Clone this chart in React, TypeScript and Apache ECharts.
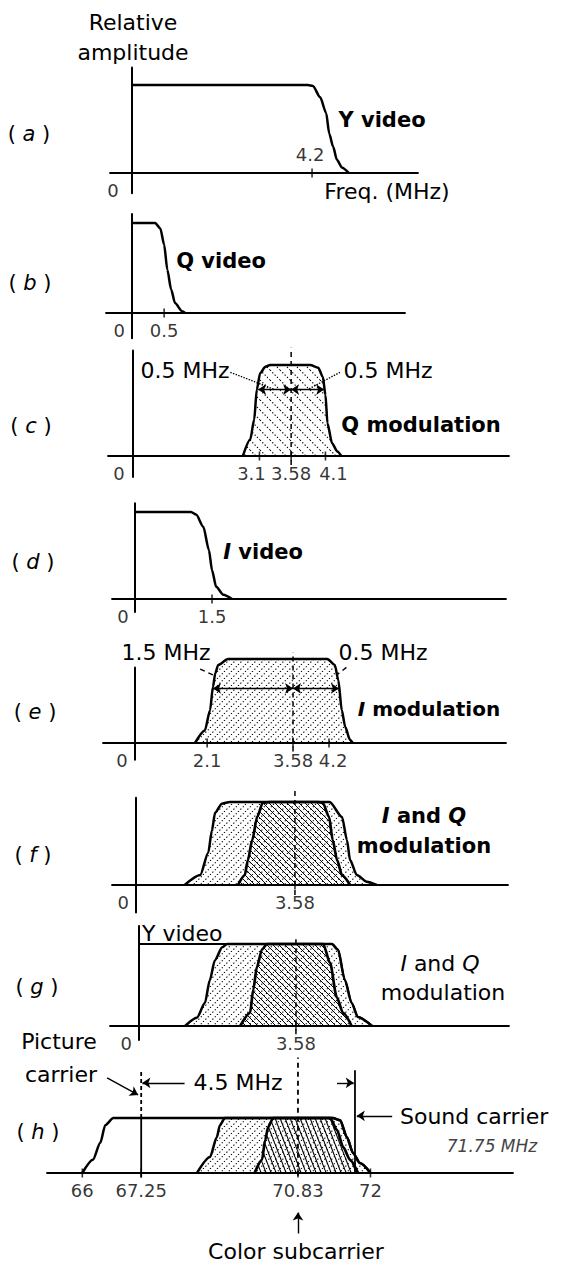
import React, { useEffect, useRef } from 'react';
import * as echarts from 'echarts';

const FONT = '"DejaVu Sans", "Liberation Sans", sans-serif';

// ---- spectra: [frequency (MHz), relative amplitude] ----
const yVideoA = [[0, 1], [4.1, 1], [4.22, 0.99], [4.39, 0.86], [4.53, 0.68], [4.6, 0.45], [4.69, 0.3], [4.78, 0.15], [4.9, 0.06], [5.06, 0]];
const qVideoB = [[0, 1], [0.36, 1], [0.44, 0.94], [0.5, 0.76], [0.55, 0.48], [0.61, 0.26], [0.67, 0.11], [0.78, 0.02], [0.83, 0]];
const qModC = [[2.85, 0], [2.96, 0.18], [3.02, 0.4], [3.06, 0.73], [3.11, 0.91], [3.19, 0.98], [3.26, 1], [3.87, 1], [3.99, 0.97], [4.06, 0.87], [4.1, 0.67], [4.13, 0.36], [4.2, 0.14], [4.28, 0.05], [4.34, 0]];
const iVideoD = [[0, 1], [1.09, 1], [1.19, 0.97], [1.33, 0.83], [1.44, 0.56], [1.5, 0.33], [1.58, 0.14], [1.72, 0.05], [1.89, 0]];
const iModE = [[1.89, 0], [2.06, 0.15], [2.15, 0.39], [2.2, 0.67], [2.24, 0.83], [2.29, 0.93], [2.46, 1], [4.17, 1], [4.3, 0.93], [4.36, 0.75], [4.42, 0.39], [4.48, 0.19], [4.56, 0.04], [4.61, 0]];
const iModF = [[1.8, 0], [2.05, 0.12], [2.18, 0.39], [2.24, 0.66], [2.29, 0.87], [2.4, 0.98], [2.53, 1], [4.14, 1], [4.34, 0.82], [4.42, 0.54], [4.47, 0.3], [4.58, 0.12], [4.74, 0.04], [4.9, 0]];
const qModF = [[2.66, 0], [2.77, 0.12], [2.82, 0.3], [2.89, 0.54], [2.97, 0.82], [3.06, 0.99], [3.18, 1], [3.95, 1], [4.03, 0.99], [4.13, 0.82], [4.19, 0.54], [4.26, 0.3], [4.34, 0.12], [4.47, 0]];
const yVideoG = [[0, 1], [4.16, 1], [4.26, 0.93], [4.37, 0.56], [4.48, 0.28], [4.58, 0.11], [4.81, 0]];
const iModG = [[1.79, 0], [1.98, 0.1], [2.11, 0.28], [2.19, 0.56], [2.27, 0.8], [2.39, 0.96], [2.47, 1], [4.16, 1], [4.26, 0.93], [4.37, 0.56], [4.48, 0.28], [4.58, 0.11], [4.81, 0]];
const qModG = [[2.68, 0], [2.84, 0.16], [2.89, 0.44], [2.95, 0.72], [3.03, 0.93], [3.11, 1], [4.02, 1], [4.13, 0.77], [4.24, 0.35], [4.34, 0.16], [4.48, 0]];
const yVideoH = [[66.0, 0], [66.17, 0.24], [66.29, 0.55], [66.37, 0.87], [66.5, 1], [71.39, 1], [71.51, 0.96], [71.62, 0.65], [71.72, 0.36], [71.83, 0.18], [72.0, 0]];
const iModH = [[69.2, 0], [69.41, 0.29], [69.52, 0.65], [69.57, 0.87], [69.65, 1], [71.39, 1], [71.51, 0.96], [71.62, 0.65], [71.72, 0.36], [71.83, 0.18], [72.0, 0]];
const qModH = [[70.13, 0], [70.25, 0.24], [70.3, 0.6], [70.35, 0.84], [70.43, 1], [71.35, 1], [71.46, 0.78], [71.56, 0.47], [71.67, 0.24], [71.8, 0]];

// ---- labelled frequencies on each baseline ----
const ticksA = [0, 4.2];
const ticksB = [0, 0.5];
const ticksC = [0, 3.1, 3.58, 4.1];
const ticksD = [0, 1.5];
const ticksE = [0, 2.1, 3.58, 4.2];
const ticksF = [0, 3.58];
const ticksG = [0, 3.58];
const ticksH = [66, 67.25, 70.83, 72];

// ---- carriers (MHz) ----
const colorSubcarrier = 3.58;
const pictureCarrierH = 67.25;
const colorSubcarrierH = 70.83;
const soundCarrierH = 71.75;

// ---- sideband dimension marks ----
const cSidebandEdges = [3.08, 3.58, 4.08];
const cArrowLevel = 0.73;
const cLeaders = [[[2.66, 0.92], [3.33, 0.73]], [[4.32, 0.92], [3.83, 0.73]]];
const eSidebandEdges = [2.2, 3.58, 4.37];
const eArrowLevel = 0.65;
const eLeaders = [[[1.98, 0.88], [2.2, 0.81]], [[4.5, 0.9], [4.35, 0.82]]];
const hSpanArrows = [[[69.0, 1.64], [67.27, 1.64]], [[71.46, 1.64], [71.73, 1.64]]];
const hSoundArrow = [[72.35, 1.04], [71.78, 1.04]];
const hPictureArrow = [[66.4, 1.73], [67.2, 1.42]];
const hSubcarrierArrow = [[70.83, -1.1], [70.83, -0.72]];

// ---- panel frames (pixel layout of each small plot; the axes are broken, not to scale) ----
const frames = [
  { base: 173, unit: 88, ymin: -0.23, ymax: 1.2, left: 110, right: 418, xmin: -0.51, xmax: 6.67 },
  { base: 313, unit: 90, ymin: -0.28, ymax: 1.1, left: 106, right: 405, xmin: -0.41, xmax: 4.27 },
  { base: 456, unit: 91, ymin: -0.23, ymax: 1.16, left: 108, right: 509, xmin: -0.38, xmax: 6.88, breaks: [{ start: 0.5, end: 1.686, gap: 0 }] },
  { base: 599, unit: 87, ymin: -0.15, ymax: 1.1, left: 112, right: 506, xmin: -0.45, xmax: 7.23 },
  { base: 743, unit: 84, ymin: -0.2, ymax: 0.9, left: 103, right: 506, xmin: -0.55, xmax: 7.25, breaks: [{ start: 0.5, end: 1.355, gap: 0 }] },
  { base: 885, unit: 83, ymin: -0.33, ymax: 1.05, left: 112, right: 508, xmin: -0.39, xmax: 7.02, breaks: [{ start: 0.5, end: 1.516, gap: 0 }] },
  { base: 1026, unit: 82, ymin: -0.17, ymax: 1.22, left: 110, right: 509, xmin: -0.47, xmax: 7.02, breaks: [{ start: 0.5, end: 1.548, gap: 0 }] },
  { base: 1173, unit: 55, ymin: -1.2, ymax: 2.0, left: 47, right: 513, xmin: 65.43, xmax: 74.3, breaks: [{ start: 66.6, end: 66.9, gap: 0 }, { start: 67.4, end: 68.45, gap: 0 }], noYAxis: true },
];

function hatch(w: number, h: number, dir: 'up' | 'down', dash: number[] | null, lw: number) {
  const c = document.createElement('canvas');
  c.width = w;
  c.height = h;
  const g = c.getContext('2d') as CanvasRenderingContext2D;
  g.strokeStyle = '#000';
  g.lineWidth = lw;
  if (dash) g.setLineDash(dash);
  for (const o of [-w, 0, w]) {
    g.beginPath();
    if (dir === 'up') {
      g.moveTo(o, h);
      g.lineTo(o + w, 0);
    } else {
      g.moveTo(o, 0);
      g.lineTo(o + w, h);
    }
    g.stroke();
  }
  return { image: c, repeat: 'repeat', imageWidth: w, imageHeight: h };
}

function curve(i: number, data: number[][], o: any = {}) {
  return {
    type: 'line', xAxisIndex: i, yAxisIndex: i, data,
    symbol: 'none', showSymbol: false, silent: true, clip: false,
    smooth: o.smooth ?? 0, smoothMonotone: 'x',
    itemStyle: { color: '#000' },
    lineStyle: { color: '#000', width: o.width ?? 2.5, type: o.type ?? 'solid' },
    areaStyle: o.fill ? { color: o.fill, opacity: 1 } : undefined,
    markLine: o.markLine,
    z: o.z ?? 3,
  };
}

function ticks(i: number, values: number[], offsets: Record<string, number> = {}, above: number[] = []) {
  return {
    type: 'scatter', xAxisIndex: i, yAxisIndex: i, silent: true, clip: false, z: 6,
    symbol: 'rect', itemStyle: { color: '#000' },
    data: values.map((v) => ({
      value: [v, 0],
      symbolSize: v === 0 ? [0, 9] : [1.6, 9],
      label: {
        position: above.includes(v) ? 'top' : 'bottom',
        distance: above.includes(v) ? 5 : 4,
        offset: [offsets[String(v)] ?? 0, 0],
      },
    })),
    label: {
      show: true, fontSize: 18, fontFamily: FONT, color: '#000',
      formatter: (p: any) => String(p.value[0]),
    },
  };
}

const seg = (a: number[], b: number[], o: any = {}) => [
  { coord: a, symbol: o.s0 ?? 'none', lineStyle: o.style },
  { coord: b, symbol: o.s1 ?? 'none' },
];

function marks(data: any[]) {
  return {
    silent: true, animation: false, label: { show: false },
    symbolSize: 8, lineStyle: { color: '#000', width: 1.4, type: 'solid' },
    data,
  };
}

function txt(text: string, x: number, y: number, o: any = {}) {
  const size = o.size ?? 22;
  const weight = o.bold ? 'bold' : 'normal';
  const align = o.align ?? 'center';
  return {
    type: 'text', x, y, silent: true, z: 20,
    style: {
      text, fontSize: size, fontFamily: FONT, fontWeight: weight,
      fontStyle: o.italic ? 'italic' : 'normal',
      fill: o.color ?? '#000',
      textAlign: align, align, textVerticalAlign: 'middle', verticalAlign: 'middle',
      lineHeight: o.lh,
      rich: {
        i: { fontStyle: 'italic', fontWeight: weight, fontSize: size, fontFamily: FONT, fill: o.color ?? '#000' },
      },
    },
  };
}

export default function App() {
  const ref = useRef<HTMLDivElement>(null);

  useEffect(() => {
    if (!ref.current) return;
    const chart = echarts.init(ref.current, null, { renderer: 'svg', width: 566, height: 1265 });

    const iHatch = hatch(7, 7, 'up', [1.3, 2.1], 1.1);
    const qSparse = hatch(10, 10, 'down', [1.3, 2], 1.1);
    const qHatch = hatch(6, 6, 'down', null, 1);
    const qSteep = hatch(5, 13, 'down', null, 1.1);

    const grid = frames.map((f) => ({
      left: f.left, width: f.right - f.left,
      top: f.base - f.ymax * f.unit, height: (f.ymax - f.ymin) * f.unit,
      containLabel: false,
    }));
    const xAxis = frames.map((f, i) => ({
      type: 'value', gridIndex: i, min: f.xmin, max: f.xmax,
      breaks: f.breaks, breakArea: { show: false },
      axisLine: { show: true, onZero: true, lineStyle: { color: '#000', width: 1.8 } },
      axisTick: { show: false }, axisLabel: { show: false }, splitLine: { show: false },
    }));
    const yAxis = frames.map((f, i) => ({
      type: 'value', gridIndex: i, min: f.ymin, max: f.ymax,
      axisLine: { show: !f.noYAxis, onZero: true, lineStyle: { color: '#000', width: 2 } },
      axisTick: { show: false }, axisLabel: { show: false }, splitLine: { show: false },
    }));

    const dotted = { type: 'dotted', width: 1.4, color: '#000' };
    const dashed = { type: [5, 4], width: 1.4, color: '#000' };

    const series: any[] = [
      // (a)
      curve(0, yVideoA, { smooth: 0.25 }),
      ticks(0, ticksA, { '0': -19, '4.2': -2 }, [4.2]),
      // (b)
      curve(1, qVideoB, { smooth: 0.25 }),
      ticks(1, ticksB, { '0': -13 }),
      // (c)
      curve(2, qModC, { smooth: 0.25, fill: qSparse }),
      curve(2, [[colorSubcarrier, -0.1], [colorSubcarrier, 1.19]], {
        width: 1.5, type: [5, 4], z: 4,
        markLine: marks([
          seg([cSidebandEdges[0], cArrowLevel], [cSidebandEdges[1], cArrowLevel], { s0: 'arrow', s1: 'arrow' }),
          seg([cSidebandEdges[1], cArrowLevel], [cSidebandEdges[2], cArrowLevel], { s0: 'arrow', s1: 'arrow' }),
          ...cLeaders.map(([a, b]) => seg(a, b, { style: dotted })),
        ]),
      }),
      ticks(2, ticksC, { '0': -14, '3.1': -8, '4.1': 8 }),
      // (d)
      curve(3, iVideoD, { smooth: 0.25 }),
      ticks(3, ticksD, { '0': -12 }),
      // (e)
      curve(4, iModE, { smooth: 0.25, fill: iHatch }),
      curve(4, [[colorSubcarrier, -0.1], [colorSubcarrier, 1.08]], {
        width: 1.5, type: [5, 4], z: 4,
        markLine: marks([
          seg([eSidebandEdges[0], eArrowLevel], [eSidebandEdges[1], eArrowLevel], { s0: 'arrow', s1: 'arrow' }),
          seg([eSidebandEdges[1], eArrowLevel], [eSidebandEdges[2], eArrowLevel], { s0: 'arrow', s1: 'arrow' }),
          ...eLeaders.map(([a, b]) => seg(a, b, { style: dashed })),
        ]),
      }),
      ticks(4, ticksE, { '0': -13, '4.2': 4 }),
      // (f)
      curve(5, iModF, { smooth: 0.25, fill: iHatch }),
      curve(5, qModF, { smooth: 0.25, fill: qHatch, width: 2.7 }),
      curve(5, [[colorSubcarrier, -0.12], [colorSubcarrier, 1.14]], { width: 1.5, type: [5, 4], z: 4 }),
      ticks(5, ticksF, { '0': -13 }),
      // (g)
      curve(6, yVideoG, { smooth: 0.25, width: 2 }),
      curve(6, iModG, { smooth: 0.25, fill: iHatch }),
      curve(6, qModG, { smooth: 0.25, fill: qHatch, width: 2.7 }),
      curve(6, [[colorSubcarrier, -0.1], [colorSubcarrier, 1.1]], { width: 1.5, type: [5, 4], z: 4 }),
      ticks(6, ticksG, { '0': -13 }),
      // (h)
      curve(7, yVideoH, { smooth: 0.25, width: 2.5 }),
      curve(7, iModH, { smooth: 0.25, fill: iHatch }),
      curve(7, qModH, { smooth: 0.25, fill: qSteep, width: 2.7 }),
      curve(7, [[colorSubcarrierH, -0.05], [colorSubcarrierH, 2.1]], { width: 1.8, type: [5, 4], z: 4 }),
      curve(7, [[pictureCarrierH, 1.0], [pictureCarrierH, 1.85]], { width: 1.8, type: [4, 3], z: 4 }),
      curve(7, [[pictureCarrierH, -0.08], [pictureCarrierH, 1.0]], {
        width: 1.8, z: 4,
        markLine: marks([
          seg(hPictureArrow[0], hPictureArrow[1], { s1: 'arrow' }),
          ...hSpanArrows.map(([a, b]) => seg(a, b, { s1: 'arrow' })),
          seg(hSoundArrow[0], hSoundArrow[1], { s1: 'arrow' }),
          seg(hSubcarrierArrow[0], hSubcarrierArrow[1], { s1: 'arrow' }),
        ]),
      }),
      curve(7, [[soundCarrierH, 0], [soundCarrierH, 1.87]], { width: 1.8, z: 4 }),
      ticks(7, ticksH),
    ];

    const graphic = [
      txt('Relative\namplitude', 133, 37, { lh: 30 }),
      txt('( {i|a} )', 29, 134, { size: 21 }),
      txt('Y video', 382, 120, { bold: true, size: 21 }),
      txt('Freq. (MHz)', 387, 191),
      txt('Q video', 221, 261, { bold: true, size: 21 }),
      txt('( {i|b} )', 30, 283, { size: 21 }),
      txt('0.5 MHz', 185, 370),
      txt('0.5 MHz', 388, 370),
      txt('Q modulation', 421, 425, { bold: true, size: 21 }),
      txt('( {i|c} )', 31, 426, { size: 21 }),
      txt('{i|I} video', 263, 552, { bold: true, size: 21 }),
      txt('( {i|d} )', 33, 562, { size: 21 }),
      txt('1.5 MHz', 166, 652),
      txt('0.5 MHz', 383, 652),
      txt('{i|I} modulation', 429, 709, { bold: true, size: 20 }),
      txt('( {i|e} )', 35, 712, { size: 21 }),
      txt('{i|I} and {i|Q}', 424, 816, { bold: true, size: 21 }),
      txt('modulation', 424, 846, { bold: true, size: 21 }),
      txt('( {i|f} )', 33, 855, { size: 21 }),
      txt('Y video', 142, 933, { align: 'left' }),
      txt('{i|I} and {i|Q}', 440, 963),
      txt('modulation', 443, 992),
      txt('( {i|g} )', 37, 987, { size: 21 }),
      txt('Picture', 59, 1041),
      txt('carrier', 61, 1074),
      txt('4.5 MHz', 238, 1082),
      txt('Sound carrier', 400, 1116, { align: 'left' }),
      txt('71.75 MHz', 492, 1146, { size: 17, italic: true, color: '#444' }),
      txt('( {i|h} )', 38, 1132, { size: 21 }),
      txt('Color subcarrier', 296, 1251),
    ];

    chart.setOption({
      animation: false,
      backgroundColor: '#fff',
      grid, xAxis, yAxis, series, graphic,
    });

    return () => chart.dispose();
  }, []);

  return (
    <div
      ref={ref}
      style={{ position: 'fixed', left: 0, top: 0, width: 566, height: 1265, background: '#fff' }}
    />
  );
}
